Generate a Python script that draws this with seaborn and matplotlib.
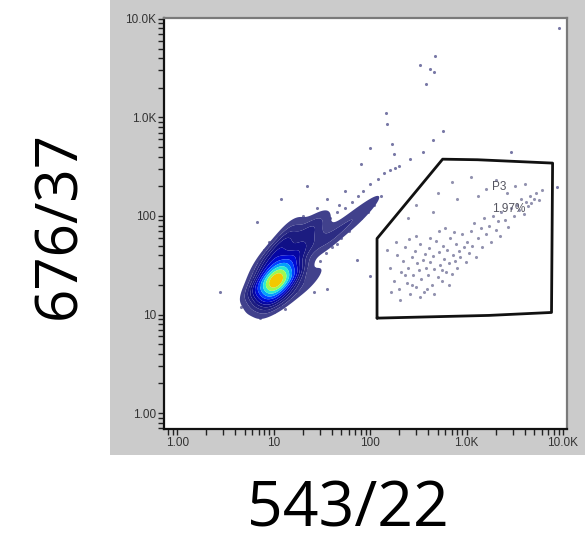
import matplotlib
matplotlib.use("Agg")
import matplotlib.pyplot as plt
import matplotlib.ticker as mticker
from matplotlib.colors import LinearSegmentedColormap
from matplotlib.patches import Rectangle
import seaborn as sns

# dense main population: anchor events (543/22, 676/37) with relative weights
core_x = [10.5, 8.5, 13.0, 10.5, 10.5,
          6.8, 16.0, 10.0, 11.0, 8.0, 14.0, 7.5, 15.0,
          12.0, 18.0, 20.0, 28.0, 15.0, 25.0, 30.0, 9.0, 22.0, 30.0, 14.0, 25.0,
          35.0, 45.0, 60.0, 75.0, 95.0, 120.0, 150.0]
core_y = [22, 22, 22, 17.5, 28,
          20, 24, 13.5, 36, 30, 16, 15, 33,
          50, 45, 65, 70, 80, 50, 90, 40, 20, 28, 62, 80,
          55, 68, 85, 100, 125, 150, 190]
core_w = [40, 20, 20, 20, 20,
          8, 10, 8, 10, 8, 8, 6, 10,
          8, 8, 6, 3.5, 2.5, 5, 2, 5, 3, 2, 5, 3,
          4, 3.5, 3, 2.5, 1.8, 1.2, 0.7]

# sparse events around the main population and outliers
halo_x = [6.5, 7, 6, 7, 8, 9, 11, 14, 12, 15, 18, 20, 22, 26, 30, 35, 40, 45, 50, 5.5,
          6, 8.5, 10, 13, 17, 20, 25, 30, 38, 45, 55, 65, 75, 85, 100, 120, 140, 160, 180, 60,
          80, 95, 110, 130, 26, 36, 74, 100, 2.75, 4.6, 7.2, 12, 22, 6.8, 55, 36, 145, 150, 100, 80,
          170, 175, 350, 445, 565, 330, 420, 470, 380, 455, 8700, 9000, 2900, 28, 48, 62, 200, 260]
halo_y = [13, 20, 28, 35, 45, 55, 62, 68, 12, 14, 17, 22, 28, 30, 35, 42, 48, 52, 60, 18,
          23, 11, 10.5, 11.5, 90, 100, 95, 80, 95, 110, 120, 140, 160, 180, 210, 240, 270, 290, 310, 70,
          95, 110, 130, 160, 17, 18, 36, 24.5, 17, 12, 9.3, 150, 200, 87, 178, 150, 1100, 860, 490, 340,
          535, 430, 450, 585, 720, 3400, 3100, 4200, 2200, 2900, 195, 8000, 450, 120, 130, 100, 320, 380]

# events inside gate P3
p3_x = [160, 175, 190, 200, 210, 220, 230, 240, 250, 260, 270, 280, 290, 300, 310, 320, 330, 340,
        350, 360, 370, 380, 395, 410, 420, 435, 450, 465, 480, 500, 515, 530, 550, 570, 590, 610,
        630, 650, 680, 700, 720, 750, 780, 800, 830, 860, 900, 940, 980, 1000,
        150, 165, 185, 205, 230, 255, 275, 300, 330, 390, 420, 460, 520, 560, 600, 660, 740,
        1050, 1100, 1150, 1200, 1250, 1300, 1400, 1450, 1500, 1600, 1700, 1800, 1900, 2000, 2100,
        2200, 2300, 2500, 2700, 2900,
        3100, 3300, 3500, 3700, 3900, 4100, 4300, 4500, 4700, 5000, 5300, 5600, 6000, 3200, 4000,
        2600, 1600, 300, 500, 800, 1300, 700, 1100, 250, 450, 2000]
p3_y = [30, 22, 40, 18, 27, 35, 48, 21, 30, 16, 38, 25, 44, 19, 33, 28, 52, 23,
        36, 17, 41, 30, 25, 47, 34, 20, 39, 29, 56, 24, 43, 32, 22, 50, 37, 27,
        45, 33, 60, 26, 40, 35, 52, 30, 44, 38, 65, 48, 34, 55,
        45, 17, 55, 14, 25, 58, 20, 62, 15, 18, 60, 16, 70, 28, 75, 20, 68,
        42, 70, 50, 85, 38, 60, 75, 48, 95, 65, 80, 55, 100, 72, 88,
        62, 110, 90, 78, 120,
        100, 130, 115, 150, 105, 140, 125, 160, 135, 150, 170, 145, 185, 200, 210,
        170, 190, 130, 170, 150, 160, 220, 250, 95, 110, 230]

# gate P3 outline
gate_x = [118, 118, 565, 1300, 7800, 7600, 1700, 118]
gate_y = [9.2, 59, 377, 372, 344, 10.5, 9.8, 9.2]

x_ticks = [1, 10, 100, 1000, 10000]
x_labels = ["1.00", "10", "100", "1.0K", "10.0K"]
y_ticks = [1, 10, 100, 1000, 10000]
y_labels = ["1.00", "10", "100", "1.0K", "10.0K"]

sns.set_theme(style="white")
plt.rcParams["font.family"] = ["Liberation Sans", "DejaVu Sans"]

fig = plt.figure(figsize=(5.85, 5.42), dpi=100)
panel = Rectangle((110 / 585, 1 - 455 / 542), 475 / 585, 455 / 542,
                  transform=fig.transFigure, facecolor="#cbcbcb",
                  edgecolor="none", zorder=-10)
fig.add_artist(panel)
ax = fig.add_axes([164 / 585, 1 - 429 / 542, 403 / 585, 411 / 542])
ax.set_zorder(1)
ax.set_facecolor("white")

density_cmap = LinearSegmentedColormap.from_list("flow", [
    "#4a4a90", "#20207e", "#0a0a8a", "#0000c8", "#0030ff",
    "#0090ff", "#10e0f0", "#70ff80", "#e8f000", "#ff9a00",
])

sns.scatterplot(x=halo_x, y=halo_y, s=5, color="#1f1f6b", alpha=0.6,
                linewidth=0, ax=ax)
sns.kdeplot(x=core_x, y=core_y, weights=core_w, fill=True, log_scale=True,
            levels=12, thresh=0.05, bw_adjust=0.75, cmap=density_cmap,
            antialiased=True, ax=ax)
sns.scatterplot(x=p3_x, y=p3_y, s=5, color="#4a4a7a", alpha=0.6,
                linewidth=0, ax=ax)

ax.plot(gate_x, gate_y, color="#111111", linewidth=2.0)
ax.text(1850, 199, "P3", fontsize=8.5, color="#555560", va="center", ha="left")
ax.text(1850, 119, "1.97%", fontsize=8.5, color="#555560", va="center", ha="left")

ax.set_xscale("log")
ax.set_yscale("log")
ax.set_xlim(0.73, 11000)
ax.set_ylim(0.69, 10200)
ax.xaxis.set_major_locator(mticker.FixedLocator(x_ticks))
ax.xaxis.set_major_formatter(mticker.FixedFormatter(x_labels))
ax.yaxis.set_major_locator(mticker.FixedLocator(y_ticks))
ax.yaxis.set_major_formatter(mticker.FixedFormatter(y_labels))
for axis in (ax.xaxis, ax.yaxis):
    axis.set_minor_locator(mticker.LogLocator(base=10, subs=range(2, 10), numticks=20))
    axis.set_minor_formatter(mticker.NullFormatter())
ax.tick_params(which="both", direction="out", length=4, width=1.0, color="#222222",
               labelsize=8.5, labelcolor="#333333", pad=1.5)
ax.tick_params(which="both", top=False, right=False, bottom=True, left=True)
ax.set_xlabel("")
ax.set_ylabel("")

for side in ("left", "bottom"):
    ax.spines[side].set_color("#111111")
    ax.spines[side].set_linewidth(1.6)
for side in ("top", "right"):
    ax.spines[side].set_color("#7a7a7a")
    ax.spines[side].set_linewidth(1.6)
    ax.spines[side].set_visible(True)

fig.text(348 / 585, 1 - 510 / 542, "543/22", fontsize=45, color="black",
         family=["Open Sans", "DejaVu Sans"], ha="center", va="center")
fig.text(60 / 585, 1 - 225 / 542, "676/37", fontsize=42, color="black", rotation=90,
         family=["Open Sans", "DejaVu Sans"], ha="center", va="center")

fig.savefig("out.png", dpi=100)
